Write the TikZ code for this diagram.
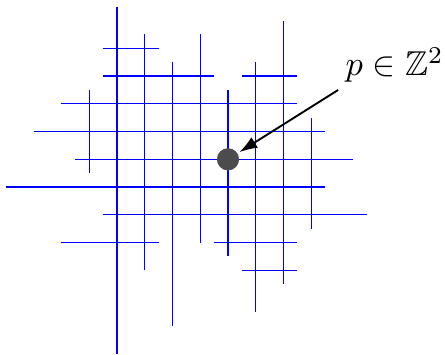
\documentclass[tikz,border=0pt]{standalone}
\usepackage{amssymb}
\usetikzlibrary{arrows.meta}
\tikzset{
  gridline/.style={blue, line width=0.33pt},
  pointdot/.style={circle, fill=black!70, inner sep=0pt, minimum size=6.44pt, outer sep=0.7pt},
  pointer/.style={black, line width=0.55pt, -{Latex[length=5.2pt,width=3.6pt]}},
}
\begin{document}
\begin{tikzpicture}[x=8.0475pt, y=8.0475pt]
\useasboundingbox (-8.216,-7.016) rectangle (7.820,5.741);
% vertical segments
\draw[gridline] (-5,-0.5) -- (-5,2.5);
\draw[gridline] (-4,-7) -- (-4,5.5);
\draw[gridline] (-3,-4) -- (-3,4.5);
\draw[gridline] (-2,-6) -- (-2,3.5);
\draw[gridline] (-1,-3) -- (-1,4.5);
\draw[gridline] (0,-3.5) -- (0,2.5);
\draw[gridline] (1,-5.5) -- (1,3.5);
\draw[gridline] (2,-4.5) -- (2,5);
\draw[gridline] (3,-2.5) -- (3,1.5);
% horizontal segments
\draw[gridline] (-4.5,4) -- (-2.5,4);
\draw[gridline] (-4.5,3) -- (-0.5,3);
\draw[gridline] (0.5,3) -- (2.5,3);
\draw[gridline] (-6,2) -- (2.5,2);
\draw[gridline] (-7,1) -- (3.5,1);
\draw[gridline] (-5.5,0) -- (4.5,0);
\draw[gridline] (-8,-1) -- (3.5,-1);
\draw[gridline] (-4.5,-2) -- (5,-2);
\draw[gridline] (-6,-3) -- (-2.5,-3);
\draw[gridline] (-0.5,-3) -- (2.5,-3);
\draw[gridline] (0.5,-4) -- (2.5,-4);
% point and label
\node[pointdot] (p) at (0,0) {};
\node[inner sep=2pt, anchor=base west] (lbl) at (3.968,3.013) {$p \in \mathbb{Z}^2$};
\draw[pointer] (lbl.south west) -- (p);
\end{tikzpicture}
\end{document}
